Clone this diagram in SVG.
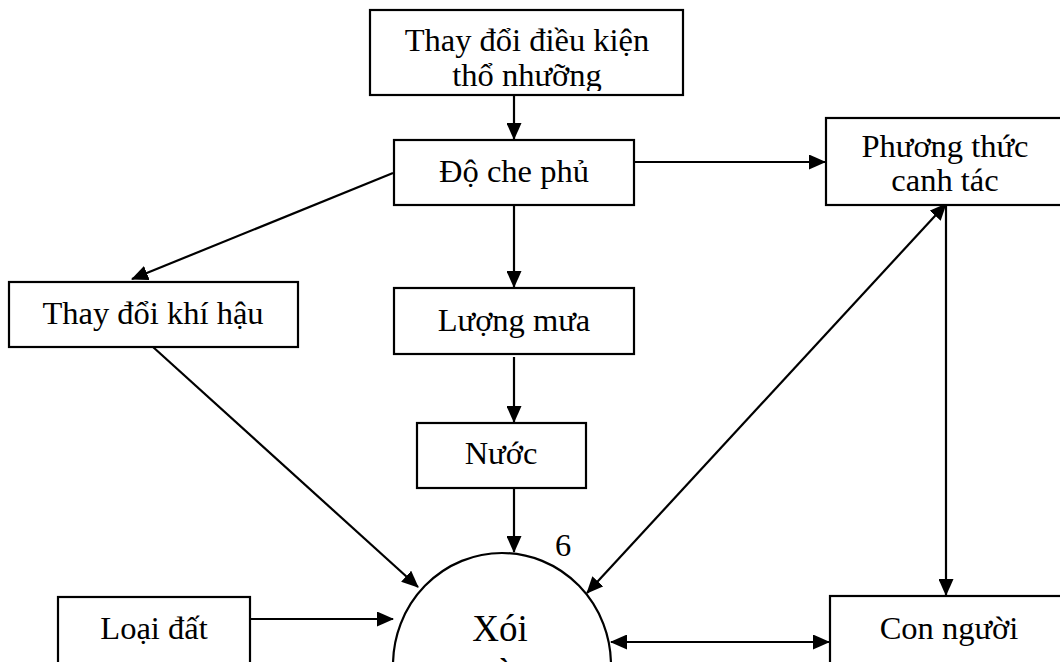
<svg xmlns="http://www.w3.org/2000/svg" width="1060" height="662" viewBox="0 0 1060 662">
<style>
.box{fill:#fff;stroke:#000;stroke-width:2.2}
.t{font-family:"Liberation Serif","Times New Roman",serif;font-size:32.5px;fill:#000;text-anchor:middle}
.c{fill:none;stroke:#000;stroke-width:2.2}
</style>
<defs>
<marker id="ah" markerUnits="userSpaceOnUse" markerWidth="17" markerHeight="15" refX="16" refY="7.5" orient="auto-start-reverse" viewBox="0 0 17 15">
<path d="M0,0 L17,7.5 L0,15 z" fill="#000"/>
</marker>
<clipPath id="topclip"><rect x="370" y="10" width="313" height="81"/></clipPath>
</defs>
<rect width="1060" height="662" fill="#fff"/>
<g id="connectors">
<line class="c" x1="514" y1="95" x2="514" y2="139" marker-end="url(#ah)"/>
<line class="c" x1="634" y1="162" x2="825" y2="162" marker-end="url(#ah)"/>
<line class="c" x1="393" y1="173" x2="132" y2="279" marker-end="url(#ah)"/>
<line class="c" x1="514" y1="205" x2="514" y2="287" marker-end="url(#ah)"/>
<line class="c" x1="514" y1="357" x2="514" y2="422" marker-end="url(#ah)"/>
<line class="c" x1="514" y1="488" x2="514" y2="552" marker-end="url(#ah)"/>
<line class="c" x1="153" y1="347" x2="418" y2="587" marker-end="url(#ah)"/>
<line class="c" x1="946" y1="204" x2="587" y2="593" marker-start="url(#ah)" marker-end="url(#ah)"/>
<line class="c" x1="946" y1="205" x2="946" y2="595" marker-end="url(#ah)"/>
<line class="c" x1="250" y1="619" x2="393" y2="619" marker-end="url(#ah)"/>
<line class="c" x1="611" y1="642" x2="829" y2="642" marker-start="url(#ah)" marker-end="url(#ah)"/>
</g>
<g id="n-top">
<rect class="box" x="370" y="10" width="313" height="85"/>
<g clip-path="url(#topclip)">
<text class="t" x="527" y="51">Thay đổi điều kiện</text>
<text class="t" x="527" y="86">thổ nhưỡng</text>
</g>
</g>
<g id="n-doche">
<rect class="box" x="394" y="140" width="240" height="65"/>
<text class="t" x="514" y="182">Độ che phủ</text>
</g>
<g id="n-phuongthuc">
<rect class="box" x="826" y="118" width="238" height="87"/>
<text class="t" x="945" y="157">Phương thức</text>
<text class="t" x="945" y="191">canh tác</text>
</g>
<g id="n-khihau">
<rect class="box" x="9" y="282" width="289" height="65"/>
<text class="t" x="153" y="324">Thay đổi khí hậu</text>
</g>
<g id="n-luongmua">
<rect class="box" x="394" y="288" width="240" height="66"/>
<text class="t" x="514" y="331">Lượng mưa</text>
</g>
<g id="n-nuoc">
<rect class="box" x="417" y="423" width="169" height="65"/>
<text class="t" x="501" y="464">Nước</text>
</g>
<g id="n-loaidat">
<rect class="box" x="58" y="597" width="192" height="80"/>
<text class="t" x="154" y="639">Loại đất</text>
</g>
<g id="n-xoimon">
<ellipse cx="502" cy="665" rx="109" ry="112" fill="#fff" stroke="#000" stroke-width="2.2"/>
<text class="t" x="500" y="641" style="font-size:37px">Xói</text>
<text class="t" x="500" y="685" style="font-size:37px">mòn</text>
</g>
<g id="n-connguoi">
<rect class="box" x="830" y="596" width="238" height="80"/>
<text class="t" x="949" y="639">Con người</text>
</g>
<text class="t" x="563" y="556">6</text>
</svg>
